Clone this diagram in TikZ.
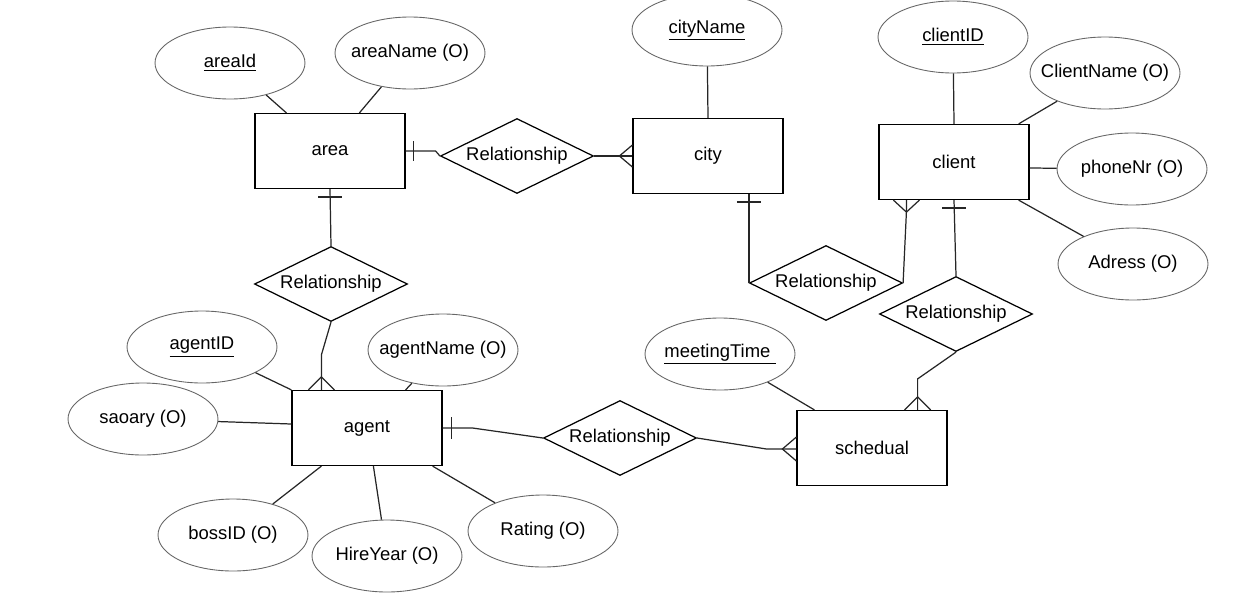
\documentclass[tikz,border=0pt]{standalone}
\usepackage{fontspec}
\setmainfont{Liberation Sans}
\usetikzlibrary{shapes.geometric,calc}

\begin{document}
\begin{tikzpicture}[x=0.02cm, y=-0.02cm, font=\fontsize{10.5}{12}\selectfont,
		entity/.style={draw, line width=0.7pt, minimum width=3cm, minimum height=1.5cm, inner sep=0pt},
		attr/.style={draw=black!60, ellipse, line width=0.5pt, minimum width=3cm, minimum height=1.44cm, inner sep=0pt,
			execute at begin node={\hbox to 0pt\bgroup\hss}, execute at end node={\hss\egroup}},
		rel/.style={draw, diamond, aspect=2, line width=0.7pt, minimum width=3.06cm, minimum height=1.5cm, inner sep=0pt},
		link/.style={line width=0.7pt, black!85}]
		\useasboundingbox (0,0) rectangle (1233,592);
		% entities
		\node[entity] (area) at (330,151) {area};
		\node[entity] (city) at (708,156) {city};
		\node[entity] (client) at (954,162) {client};
		\node[entity] (agent) at (367,428) {agent};
		\node[entity] (schedual) at (872,448) {schedual};
		% relationships
		\node[rel] (rAreaCity) at (517,156) {Relationship};
		\node[rel] (rAreaAgent) at (331,284) {Relationship};
		\node[rel] (rCityClient) at (826,283) {Relationship};
		\node[rel] (rClientSched) at (956,314) {Relationship};
		\node[rel] (rAgentSched) at (620,438) {Relationship};
		% attributes
		\node[attr] (areaId) at (230,63) {\underline{areaId}};
		\node[attr] (areaName) at (410,53) {areaName (O)};
		\node[attr] (cityName) at (707,30) {\underline{cityName}};
		\node[attr] (clientID) at (953,37) {\underline{clientID}};
		\node[attr] (clientName) at (1105,73) {ClientName (O)};
		\node[attr] (phoneNr) at (1132,169) {phoneNr (O)};
		\node[attr] (adress) at (1133,264) {Adress (O)};
		\node[attr] (meetingTime) at (720,354) {\underline{meetingTime }};
		\node[attr] (agentID) at (202,347) {\underline{agentID}};
		\node[attr] (agentName) at (443,350) {agentName (O)};
		\node[attr] (saoary) at (143,419) {saoary (O)};
		\node[attr] (bossID) at (233,535) {bossID (O)};
		\node[attr] (hireYear) at (387,556) {HireYear (O)};
		\node[attr] (rating) at (543,531) {Rating (O)};
		% attribute links
		\draw[link] (areaId) -- ($(area.north west)+(32,0)$);
		\draw[link] (areaName) -- ($(area.north west)+(105,0)$);
		\draw[link] (cityName) -- (city.north);
		\draw[link] (clientID) -- (client.north);
		\draw[link] (clientName) -- ($(client.north east)+(-11,0)$);
		\draw[link] (phoneNr) -- ($(client.east)+(0,6)$);
		\draw[link] (adress) -- ($(client.south east)+(-11,0)$);
		\draw[link] (meetingTime) -- ($(schedual.north west)+(18,0)$);
		\draw[link] (agentID) -- (agent.north west);
		\draw[link] (agentName) -- ($(agent.north east)+(-37,0)$);
		\draw[link] (saoary) -- ($(agent.west)+(0,-4)$);
		\draw[link] (bossID) -- ($(agent.south west)+(30,0)$);
		\draw[link] (hireYear) -- ($(agent.south west)+(82,0)$);
		\draw[link] (rating) -- ($(agent.south east)+(-10,0)$);
		% area -- city
		\draw[link] (area.east) -- ++(30,0) -- (rAreaCity.west);
		\draw[link] ($(area.east)+(8,-10)$) -- ++(0,20);
		\draw[link] (rAreaCity.east) -- (city.west);
		\draw[link] ($(city.west)+(0,-11)$) -- ($(city.west)+(-13,0)$) -- ($(city.west)+(0,11)$);
		% area -- agent
		\draw[link] (area.south) -- (rAreaAgent.north);
		\draw[link] ($(area.south)+(-12,8)$) -- ++(24,0);
		\draw[link] (rAreaAgent.south) -- ($(agent.north west)+(30,-35)$) -- ($(agent.north west)+(30,0)$);
		\draw[link] ($(agent.north west)+(17,0)$) -- ($(agent.north west)+(30,-13)$) -- ($(agent.north west)+(43,0)$);
		% city -- client
		\draw[link] (rCityClient.west |- city.south) -- (rCityClient.west);
		\draw[link] ($(rCityClient.west |- city.south)+(-12,8)$) -- ++(24,0);
		\draw[link] (rCityClient.east) -- ($(client.south west)+(28,12)$) -- ($(client.south west)+(28,0)$);
		\draw[link] ($(client.south west)+(15,0)$) -- ($(client.south west)+(28,12)$) -- ($(client.south west)+(41,0)$);
		% client -- schedual
		\draw[link] (client.south) -- (rClientSched.north);
		\draw[link] ($(client.south)+(-12,8)$) -- ++(24,0);
		\draw[link] (rClientSched.south) -- ($(schedual.north east)+(-30,-31)$) -- ($(schedual.north east)+(-30,0)$);
		\draw[link] ($(schedual.north east)+(-43,0)$) -- ($(schedual.north east)+(-30,-13)$) -- ($(schedual.north east)+(-17,0)$);
		% agent -- schedual
		\draw[link] (agent.east) -- ++(30,0) -- (rAgentSched.west);
		\draw[link] ($(agent.east)+(9,-11)$) -- ++(0,22);
		\draw[link] (rAgentSched.east) -- ($(schedual.west)+(-30,1)$) -- ($(schedual.west)+(0,1)$);
		\draw[link] ($(schedual.west)+(0,-11)$) -- ($(schedual.west)+(-14,1)$) -- ($(schedual.west)+(0,13)$);
		\end{tikzpicture}
\end{document}
